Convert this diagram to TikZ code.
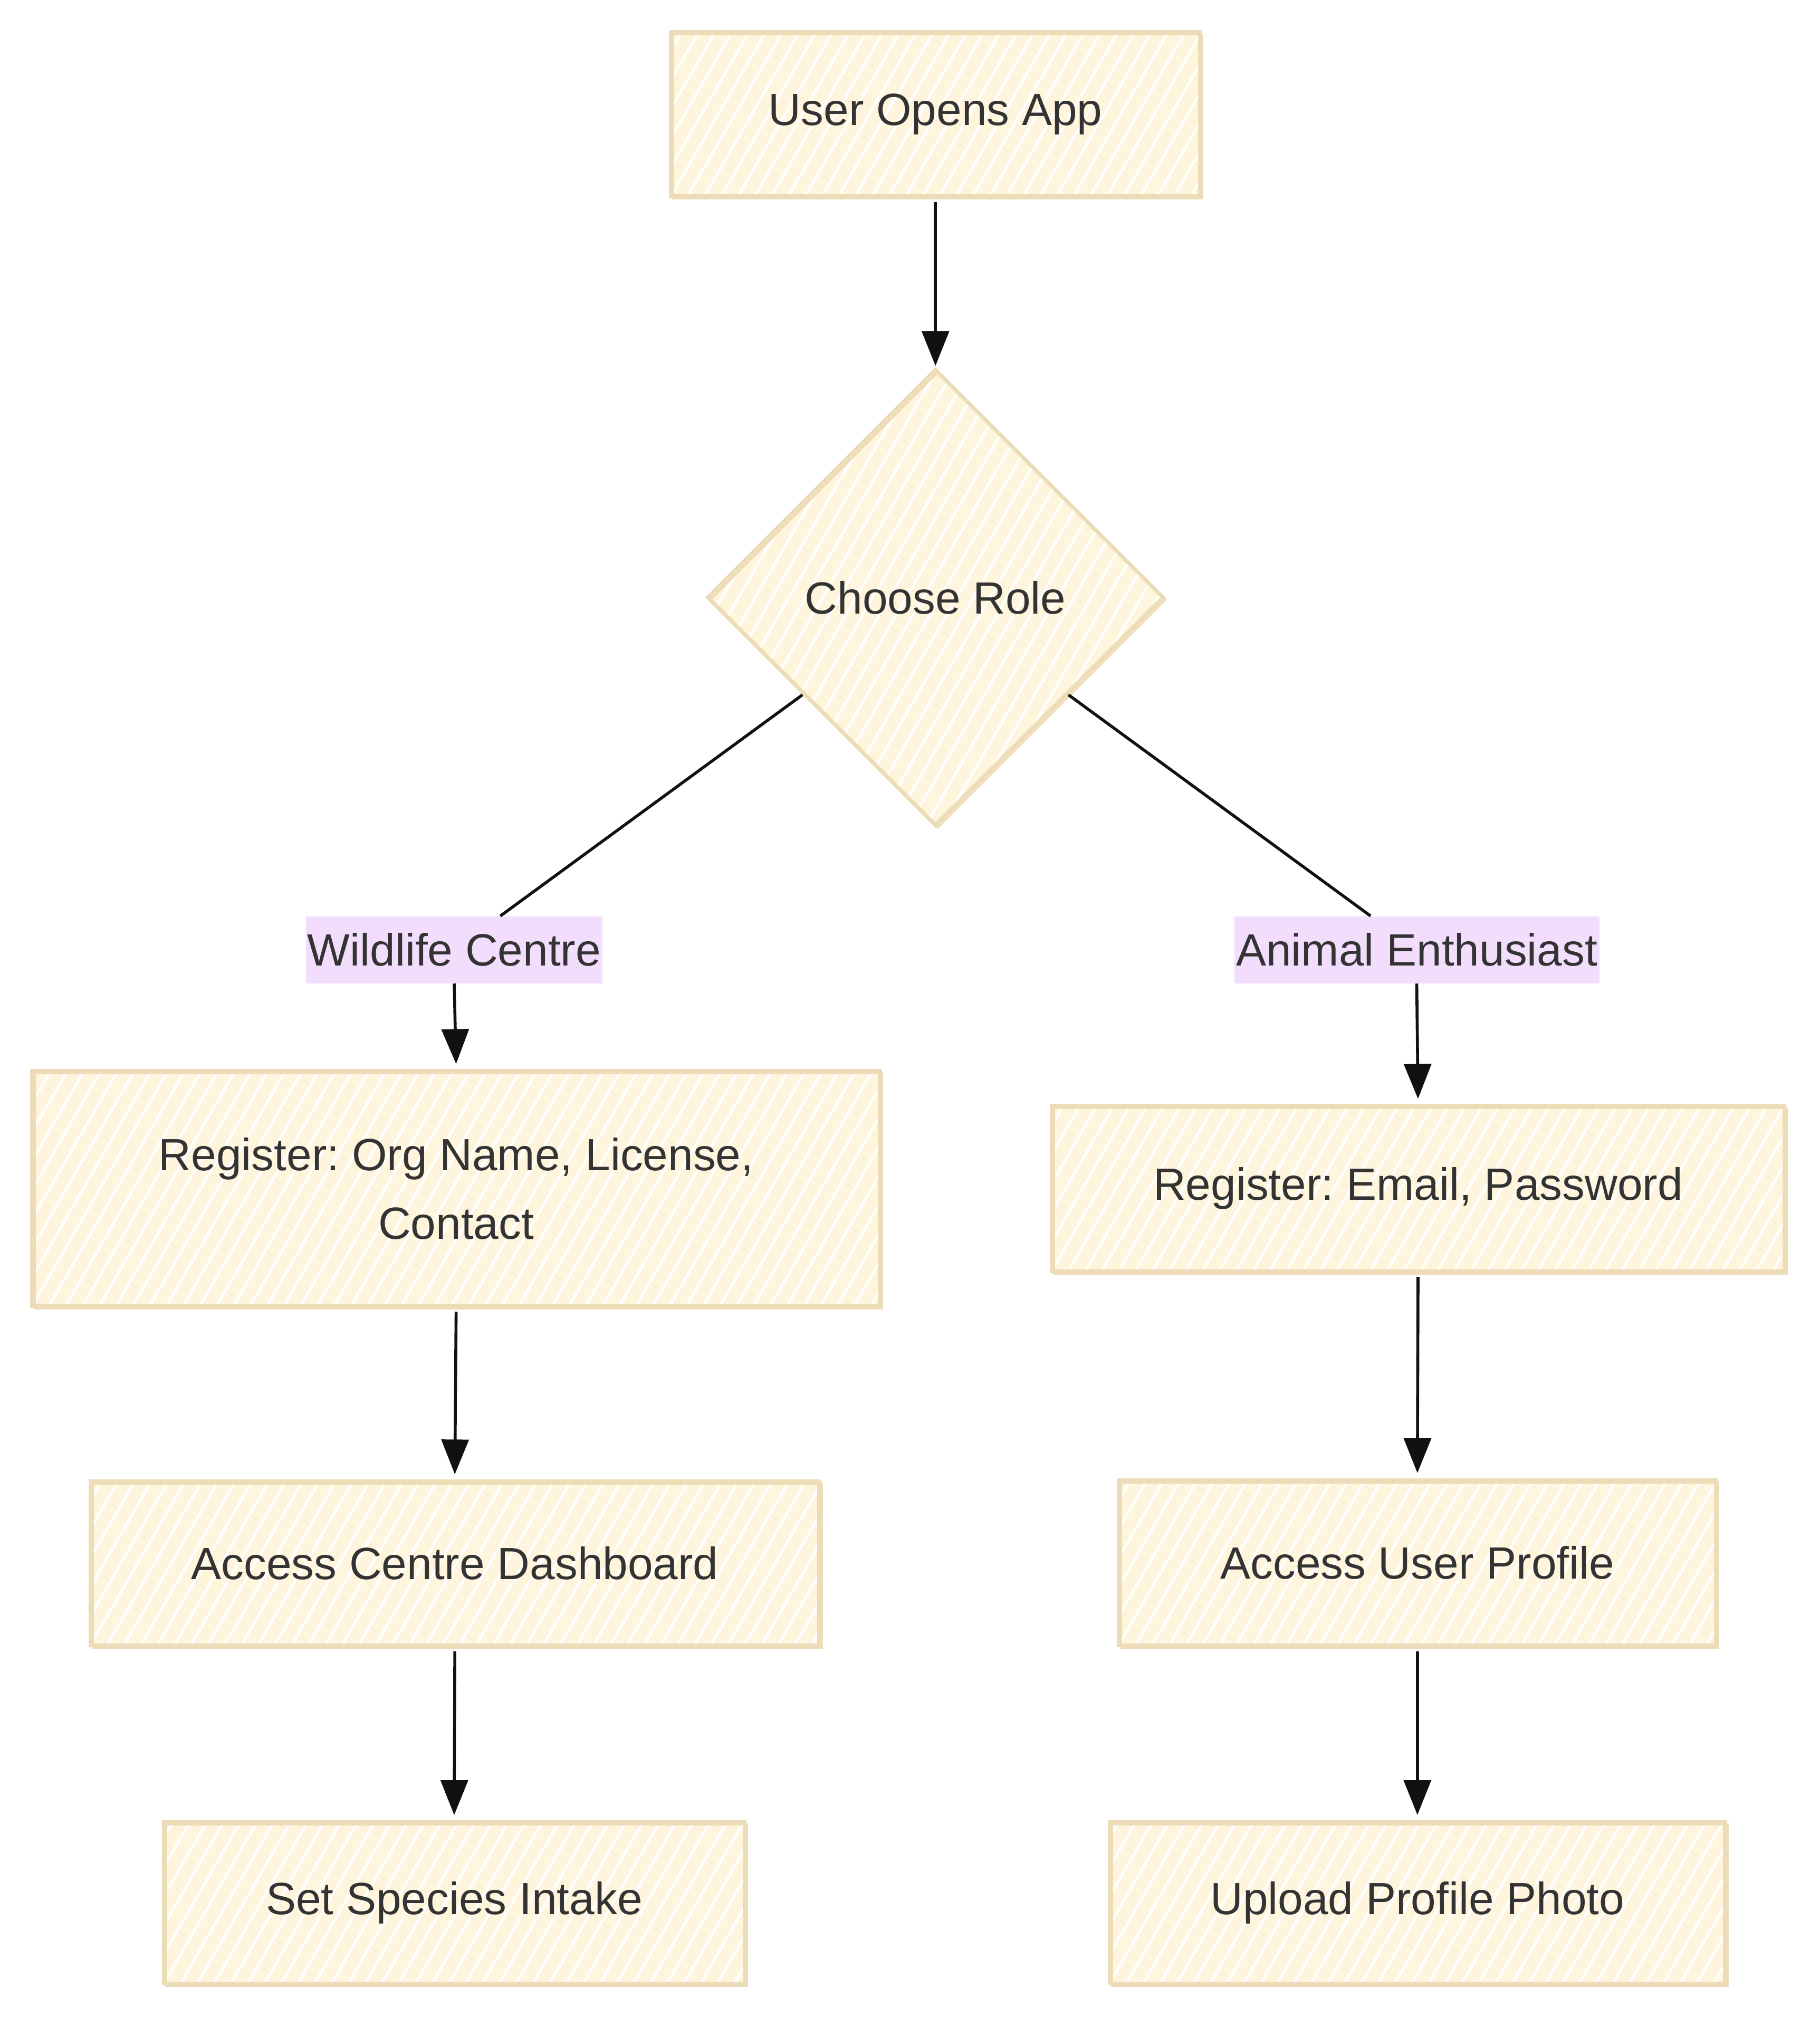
\documentclass[tikz,border=0pt]{standalone}
\usepackage{fontspec}
\setmainfont{Liberation Sans}
\frenchspacing
\usetikzlibrary{shapes.geometric,arrows.meta}
\definecolor{boxfill}{HTML}{FFF4DC}
\definecolor{boxline}{HTML}{ECDCB8}
\definecolor{lblfill}{HTML}{F3DDFD}
\definecolor{txt}{HTML}{333333}
\definecolor{edge}{HTML}{111111}
\tikzset{
  hatch/.style={path picture={
    \foreach \k in {-30,...,54}{
      \draw[white, line width=2pt] ([xshift=\k*13pt]path picture bounding box.south west) -- ++(60:430pt);
    }}},
  sketch/.style={fill=boxfill, draw=boxline, line width=3pt, hatch,
    postaction={draw=boxline, line width=1.6pt, transform canvas={shift={(1.8pt,-1.8pt)}}},
    text=txt, font=\fontsize{35}{53}\selectfont, align=center, inner sep=0pt},
  procbox/.style={sketch, rectangle},
  decbox/.style={sketch, diamond, minimum width=354pt, minimum height=354pt},
  lblbox/.style={rectangle, fill=lblfill, text=txt, font=\fontsize{35}{53}\selectfont, inner xsep=0pt, inner ysep=0pt, minimum height=52pt},
  link/.style={draw=edge, line width=2.3pt},
  arr/.style={link, -{Triangle[length=27pt,width=21pt]}, shorten >=1pt},
}
\begin{document}
\begin{tikzpicture}[x=1pt,y=-1pt]
\useasboundingbox (0,0) rectangle (1410.5,1570);
\node[procbox, minimum width=410pt, minimum height=127pt] (open) at (725,88.5) {User Opens App};
\node[decbox] (choose) at (725,463) {Choose Role};
\node[lblbox, minimum width=230pt] (wl) at (352,736) {Wildlife Centre};
\node[lblbox, minimum width=283pt] (ae) at (1098,736) {Animal Enthusiast};
\node[procbox, minimum width=657pt, minimum height=182pt] (regorg) at (353.5,921) {Register: Org Name, License,\\Contact};
\node[procbox, minimum width=565pt, minimum height=127pt] (dash) at (352.5,1211.5) {Access Centre Dashboard};
\node[procbox, minimum width=450pt, minimum height=125pt] (species) at (352,1474.5) {Set Species Intake};
\node[procbox, minimum width=568pt, minimum height=128pt] (regemail) at (1099,921) {Register: Email, Password};
\node[procbox, minimum width=463pt, minimum height=128pt] (profile) at (1098.5,1211) {Access User Profile};
\node[procbox, minimum width=477pt, minimum height=125pt] (photo) at (1098.5,1474.5) {Upload Profile Photo};
\draw[arr] ([yshift=-3pt]open.south) -- (choose.north);
\draw[link] (choose) -- (wl);
\draw[link] (choose) -- (ae);
\draw[arr] (wl.south) -- ([yshift=3pt]regorg.north);
\draw[arr] (ae.south) -- ([yshift=3pt]regemail.north);
\draw[arr] ([yshift=-3pt]regorg.south) -- ([yshift=3pt]dash.north);
\draw[arr] ([yshift=-3pt]dash.south) -- ([yshift=3pt]species.north);
\draw[arr] ([yshift=-3pt]regemail.south) -- ([yshift=3pt]profile.north);
\draw[arr] ([yshift=-3pt]profile.south) -- ([yshift=3pt]photo.north);
\end{tikzpicture}
\end{document}
